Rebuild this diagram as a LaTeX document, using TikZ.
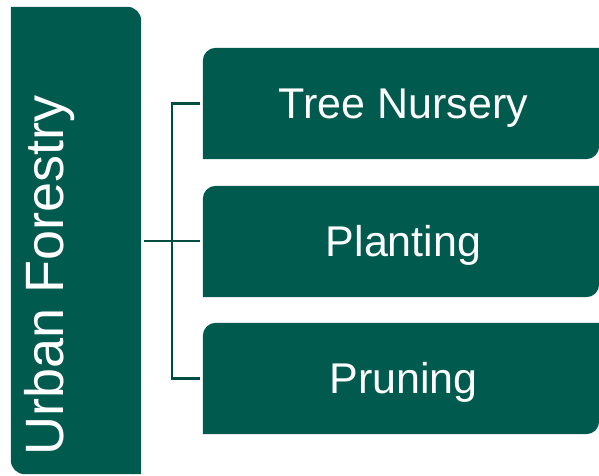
\documentclass[tikz,border=0pt]{standalone}
\usepackage{fontspec}
\setmainfont{Liberation Sans}
\usetikzlibrary{backgrounds}
\definecolor{forest}{RGB}{0,90,78}
\definecolor{forestline}{RGB}{0,78,66}
\begin{document}
\begin{tikzpicture}[x=1pt,y=1pt,
  branchbox/.style={minimum width=396pt,minimum height=111pt,inner sep=0pt,
    text height=29pt,text depth=0pt,
    text=white,font=\fontsize{43}{48}\selectfont},
  branchtext/.style={text=white,inner sep=0pt,
    text height=29pt,text depth=0pt,font=\fontsize{43}{48}\selectfont},
  rootbox/.style={minimum width=130pt,minimum height=467pt,inner sep=0pt},
  roottext/.style={rotate=90,anchor=base,text=white,inner sep=0pt,
    font=\fontsize{54}{60}\selectfont},
  conn/.style={draw=forestline,line width=2.5pt},
  fillshape/.style={fill=forest}]
\useasboundingbox (0,0) rectangle (599,475);

% root column and its label
\node[rootbox] (root) at (76,234.5) {};
\node[roottext] (rootlabel) at (63,200) {Urban Forestry};

% the three branches, each with its label set a little right of centre
\foreach \n/\y/\t in {b1/371.5/Tree Nursery,b2/233.5/Planting,b3/96.5/Pruning}{
  \node[branchbox] (\n) at (401,\y) {};
  \node[branchtext] (\n-label) at ([xshift=2.5pt]\n.center) {\t};
}

% box fills: two rounded corners each
\begin{scope}[on background layer]
  \fill[fillshape] (root.north west) -- ([xshift=-14pt]root.north east)
    arc[start angle=90,end angle=0,radius=14pt]
    -- (root.south east) -- ([xshift=14pt]root.south west)
    arc[start angle=270,end angle=180,radius=14pt] -- cycle;
  \foreach \b in {b1,b2,b3}{
    \fill[fillshape] (\b.south west) -- ([yshift=-13pt]\b.north west)
      arc[start angle=180,end angle=90,radius=13pt]
      -- (\b.north east) -- ([yshift=13pt]\b.south east)
      arc[start angle=0,end angle=-90,radius=13pt] -- cycle;
  }
\end{scope}

% connectors
\coordinate (bus) at (172,234);
\draw[conn] ([xshift=3pt]root.east |- bus) -- ([xshift=-3pt]b2.west |- bus);
\draw[conn] ([xshift=-3pt]b1.west) -| (bus) |- ([xshift=-3pt]b3.west);
\end{tikzpicture}
\end{document}
